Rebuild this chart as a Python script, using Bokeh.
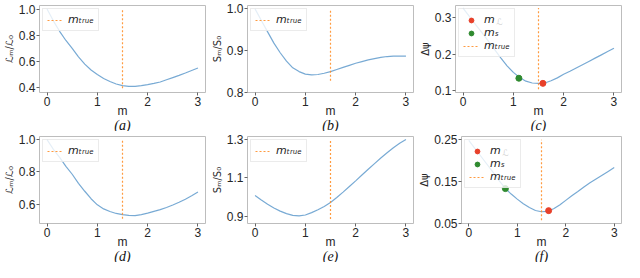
from bokeh.plotting import figure
from bokeh.layouts import row, column
from bokeh.models import Range1d, FixedTicker, Legend, LegendItem, Label, Title, PrintfTickFormatter
from bokeh.embed import file_html
from bokeh.resources import INLINE

# ---------------- data ----------------
m_values = [0.0, 0.125, 0.25, 0.375, 0.5, 0.625, 0.75, 0.875, 1.0, 1.125, 1.25, 1.375, 1.5,
            1.625, 1.75, 1.875, 2.0, 2.125, 2.25, 2.375, 2.5, 2.625, 2.75, 2.875, 3.0]

loss_a = [1.000, 0.910, 0.830, 0.760, 0.700, 0.635, 0.580, 0.535, 0.500, 0.470, 0.447, 0.428, 0.416,
          0.410, 0.410, 0.415, 0.423, 0.432, 0.443, 0.460, 0.477, 0.494, 0.512, 0.531, 0.550]
smooth_b = [1.000, 0.972, 0.945, 0.918, 0.895, 0.875, 0.859, 0.850, 0.844, 0.842, 0.843, 0.846, 0.850,
            0.855, 0.860, 0.865, 0.870, 0.874, 0.878, 0.881, 0.884, 0.886, 0.887, 0.887, 0.887]
dpsi_c = [0.326, 0.303, 0.281, 0.259, 0.236, 0.213, 0.190, 0.168, 0.150, 0.136, 0.126, 0.121, 0.120,
          0.121, 0.127, 0.135, 0.145, 0.153, 0.162, 0.171, 0.180, 0.189, 0.198, 0.207, 0.216]
loss_d = [1.000, 0.940, 0.890, 0.835, 0.786, 0.730, 0.681, 0.635, 0.597, 0.572, 0.556, 0.544, 0.537,
          0.532, 0.531, 0.537, 0.546, 0.557, 0.568, 0.581, 0.596, 0.613, 0.632, 0.653, 0.676]
smooth_e = [1.009, 0.985, 0.963, 0.944, 0.928, 0.915, 0.906, 0.903, 0.908, 0.920, 0.935, 0.952, 0.972,
            0.998, 1.026, 1.055, 1.084, 1.114, 1.144, 1.173, 1.202, 1.229, 1.255, 1.278, 1.298]
dpsi_f = [0.248, 0.229, 0.210, 0.191, 0.172, 0.152, 0.134, 0.120, 0.108, 0.097, 0.088, 0.081, 0.078,
          0.079, 0.085, 0.094, 0.105, 0.116, 0.126, 0.137, 0.147, 0.156, 0.165, 0.174, 0.183]

m_true = 1.5
vline_a = [0.396, 1.000]
vline_b = [0.828, 1.000]
vline_c = [0.104, 0.326]
vline_d = [0.511, 1.000]
vline_e = [0.887, 1.297]
vline_f = [0.058, 0.249]

m_L_c, dpsi_L_c = 1.587, 0.120
m_S_c, dpsi_S_c = 1.110, 0.134
m_L_f, dpsi_L_f = 1.647, 0.0806
m_S_f, dpsi_S_f = 0.755, 0.133

x_range = [-0.15, 3.15]
x_ticks = [0, 1, 2, 3]
yrange_a, yticks_a = [0.363, 1.027], [0.4, 0.6, 0.8, 1.0]
yrange_b, yticks_b = [0.800, 1.008], [0.8, 0.9, 1.0]
yrange_c, yticks_c = [0.095, 0.333], [0.1, 0.2, 0.3]
yrange_d, yticks_d = [0.482, 1.019], [0.6, 0.8, 1.0]
yrange_e, yticks_e = [0.864, 1.313], [0.9, 1.1, 1.3]
yrange_f, yticks_f = [0.050, 0.257], [0.05, 0.15, 0.25]

# ---------------- style ----------------
BLUE = "#3f86c2"
ORANGE = "#ff8a1f"
RED = "#e8402a"
GREEN = "#2f8a2f"
W, H = 208, 131
TOP, RIGHT = 5, 3
TICK_FONT = "Liberation Sans"
LEG_M, LEG_P, LEG_G, LEG_S = 3, 4, 16, 5


def panel(y, yr, yticks, yfmt, ylabel, vline, caption, left, pts=None):
    p = figure(width=W, height=H, output_backend="svg", toolbar_location=None,
               x_range=Range1d(*x_range), y_range=Range1d(*yr),
               min_border_left=left, min_border_right=RIGHT,
               min_border_top=TOP, min_border_bottom=0)
    p.grid.visible = False
    p.outline_line_color = "#bdbdbd"
    p.background_fill_color = "white"
    p.border_fill_color = "white"

    p.line(m_values, y, line_color=BLUE, line_width=1.2, line_alpha=0.7)
    vl = p.segment(x0=[m_true], y0=[vline[0]], x1=[m_true], y1=[vline[1]],
                   line_color=ORANGE, line_dash="2 2", line_width=1.2, line_alpha=0.85)
    items = []
    if pts is not None:
        r1 = p.scatter([pts[0]], [pts[1]], size=6, color=RED)
        r2 = p.scatter([pts[2]], [pts[3]], size=6, color=GREEN)
        items += [LegendItem(label="m", renderers=[r1]),
                  LegendItem(label="mₛ", renderers=[r2])]
    items.append(LegendItem(label="mₜᵣᵤₑ", renderers=[vl]))
    legend = Legend(items=items, location="top_left", margin=LEG_M, padding=LEG_P, spacing=0,
                    glyph_width=LEG_G, glyph_height=12, label_height=12, label_standoff=LEG_S,
                    label_text_font="DejaVu Sans", label_text_font_style="italic",
                    label_text_font_size="11px", label_text_color="#222222",
                    border_line_color="#d8d8d8", background_fill_alpha=0.8)
    p.add_layout(legend)
    if pts is not None:
        p.add_layout(Label(x=x_range[0], y=yr[1], x_units="data", y_units="data",
                           x_offset=41, y_offset=-(LEG_M + LEG_P + 9), level="overlay",
                           text="ℒ", text_font="DejaVu Sans", text_font_style="italic",
                           text_font_size="9px", text_color="#222222", text_baseline="middle"))

    p.xaxis.ticker = FixedTicker(ticks=x_ticks)
    p.xaxis.formatter = PrintfTickFormatter(format="%d")
    p.yaxis.ticker = FixedTicker(ticks=yticks)
    p.yaxis.formatter = PrintfTickFormatter(format=yfmt)
    p.xaxis.axis_label = "m"
    p.yaxis.axis_label = ylabel
    for ax in (p.xaxis[0], p.yaxis[0]):
        ax.axis_line_color = None
        ax.major_tick_line_color = "#666666"
        ax.major_tick_out = 3
        ax.major_tick_in = 0
        ax.minor_tick_line_color = None
        ax.major_label_standoff = 1
        ax.major_label_text_font = TICK_FONT
        ax.major_label_text_font_size = "12px"
        ax.major_label_text_color = "#262626"
        ax.axis_label_text_font = "DejaVu Sans"
        ax.axis_label_text_font_style = "normal"
        ax.axis_label_text_color = "#262626"
    p.xaxis.axis_label_standoff = -5
    p.yaxis.axis_label_standoff = 1
    p.xaxis.axis_label_text_font_size = "12px"
    p.xaxis.axis_label_text_font = TICK_FONT
    p.yaxis.axis_label_text_font_size = "10px"

    p.add_layout(Title(text=caption, align="center", standoff=-6, vertical_align="top",
                       text_font="Liberation Serif", text_font_style="italic",
                       text_font_size="14px", text_color="#111111"), "below")
    return p


pa = panel(loss_a, yrange_a, yticks_a, "%.1f", "ℒₘ/ℒ₀", vline_a, "(a)", 34)
pb = panel(smooth_b, yrange_b, yticks_b, "%.1f", "Sₘ/S₀", vline_b, "(b)", 34)
pc = panel(dpsi_c, yrange_c, yticks_c, "%.1f", "Δψ", vline_c, "(c)", 34,
           [m_L_c, dpsi_L_c, m_S_c, dpsi_S_c])
pd = panel(loss_d, yrange_d, yticks_d, "%.1f", "ℒₘ/ℒ₀", vline_d, "(d)", 34)
pe = panel(smooth_e, yrange_e, yticks_e, "%.1f", "Sₘ/S₀", vline_e, "(e)", 34)
pf = panel(dpsi_f, yrange_f, yticks_f, "%.2f", "Δψ", vline_f, "(f)", 40,
           [m_L_f, dpsi_L_f, m_S_f, dpsi_S_f])

layout = column(row(pa, pb, pc), row(pd, pe, pf))
open("out.html", "w").write(file_html(layout, INLINE))
